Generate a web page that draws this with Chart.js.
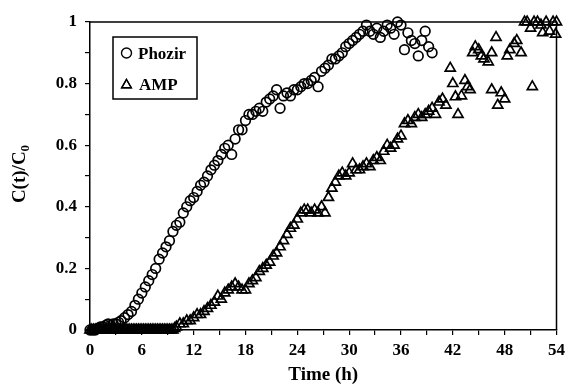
<!DOCTYPE html>
<html>
<head>
<meta charset="utf-8">
<script src="https://cdn.jsdelivr.net/npm/chart.js@4/dist/chart.umd.min.js"></script>
<style>
  body { margin: 0; background: #fff; }
  #wrap { width: 570px; height: 388px; }
</style>
</head>
<body>
<div id="wrap"><canvas id="chart" width="570" height="388"></canvas></div>
<script>
// Phozir breakthrough (circles)
const phozirTime = [0.0, 0.3, 0.6, 0.9, 1.2, 1.5, 1.8, 2.1, 2.4, 2.7, 3.0, 3.3, 3.6, 4.0, 4.4, 4.8, 5.2, 5.6, 6.0, 6.4,
  6.8, 7.2, 7.6, 8.0, 8.4, 8.8, 9.2, 9.6, 10.0, 10.4, 10.8, 11.2, 11.6, 12.0, 12.4, 12.8, 13.2, 13.6, 14.0, 14.4,
  14.8, 15.2, 15.6, 16.0, 16.4, 16.8, 17.2, 17.6, 18.0, 18.4, 18.8, 19.2, 19.6, 20.0, 20.4, 20.8, 21.2, 21.6, 22.0, 22.4,
  22.8, 23.2, 23.6, 24.0, 24.4, 24.8, 25.2, 25.6, 26.0, 26.4, 26.8, 27.2, 27.6, 28.0, 28.4, 28.8, 29.2, 29.6, 30.0, 30.4,
  30.8, 31.2, 31.6, 32.0, 32.4, 32.8, 33.2, 33.6, 34.0, 34.4, 34.8, 35.2, 35.6, 36.0, 36.4, 36.8, 37.2, 37.6, 38.0, 38.4,
  38.8, 39.2, 39.6];
const phozirValue = [0.00, 0.00, 0.00, 0.005, 0.01, 0.01, 0.015, 0.02, 0.015, 0.02, 0.02, 0.025, 0.03, 0.04, 0.05, 0.06, 0.08, 0.10, 0.12, 0.14,
  0.16, 0.18, 0.20, 0.23, 0.25, 0.27, 0.29, 0.32, 0.34, 0.35, 0.38, 0.40, 0.42, 0.43, 0.45, 0.47, 0.48, 0.50, 0.52, 0.535,
  0.55, 0.57, 0.59, 0.60, 0.57, 0.62, 0.65, 0.65, 0.68, 0.70, 0.70, 0.71, 0.72, 0.71, 0.74, 0.75, 0.76, 0.78, 0.72, 0.76,
  0.77, 0.76, 0.78, 0.78, 0.79, 0.80, 0.80, 0.81, 0.82, 0.79, 0.84, 0.85, 0.86, 0.88, 0.88, 0.89, 0.90, 0.92, 0.93, 0.94,
  0.95, 0.96, 0.97, 0.99, 0.97, 0.96, 0.98, 0.95, 0.97, 0.99, 0.98, 0.96, 1.00, 0.99, 0.91, 0.965, 0.94, 0.93, 0.89, 0.94,
  0.97, 0.92, 0.90];

// AMP breakthrough (triangles)
const ampTime = [0.0, 0.2, 0.4, 0.6, 0.8, 1.0, 1.2, 1.4, 1.6, 1.8, 2.0, 2.2, 2.4, 2.6, 2.8, 3.0, 3.2, 3.4, 3.6, 3.8,
  4.0, 4.2, 4.4, 4.6, 4.8, 5.0, 5.2, 5.4, 5.6, 5.8, 6.0, 6.2, 6.4, 6.6, 6.8, 7.0, 7.2, 7.4, 7.6, 7.8,
  8.0, 8.2, 8.4, 8.6, 8.8, 9.0, 9.2, 9.4, 9.6, 9.8, 10.0, 10.4, 10.8, 11.2, 11.6, 12.0, 12.4, 12.8, 13.2, 13.6,
  14.0, 14.4, 14.8, 15.2, 15.6, 16.0, 16.4, 16.8, 17.2, 17.6, 18.0, 18.4, 18.8, 19.2, 19.6, 20.0, 20.4, 20.8, 21.2, 21.6,
  22.0, 22.4, 22.8, 23.2, 23.6, 24.0, 24.4, 24.8, 25.2, 25.6, 26.0, 26.4, 26.8, 27.2, 27.6, 28.0, 28.4, 28.8, 29.2, 29.6,
  30.0, 30.4, 30.8, 31.2, 31.6, 32.0, 32.4, 32.8, 33.2, 33.6, 34.0, 34.4, 34.8, 35.2, 35.6, 36.0, 36.4, 36.8, 37.2, 37.6,
  38.0, 38.4, 38.8, 39.2, 39.6, 40.0, 40.4, 40.8, 41.2, 41.7, 42.0, 42.3, 42.6, 43.0, 43.4, 43.7, 44.0, 44.3, 44.6, 45.0,
  45.3, 45.6, 46.1, 46.5, 46.5, 47.0, 47.2, 47.6, 48.0, 48.3, 48.6, 49.1, 49.4, 49.9, 50.3, 50.6, 51.0, 51.2, 51.4, 51.8,
  52.2, 52.4, 52.8, 53.2, 53.6, 53.9, 54.0];
const ampValue = [0, 0, 0, 0, 0, 0, 0, 0, 0, 0, 0, 0, 0, 0, 0, 0, 0, 0, 0, 0,
  0, 0, 0, 0, 0, 0, 0, 0, 0, 0, 0, 0, 0, 0, 0, 0, 0, 0, 0, 0,
  0, 0, 0, 0, 0, 0, 0, 0, 0, 0.005, 0.01, 0.02, 0.02, 0.03, 0.03, 0.04, 0.05, 0.05, 0.06, 0.07,
  0.08, 0.09, 0.11, 0.10, 0.12, 0.13, 0.14, 0.15, 0.14, 0.13, 0.13, 0.15, 0.16, 0.17, 0.19, 0.20, 0.21, 0.22, 0.24, 0.25,
  0.27, 0.29, 0.31, 0.33, 0.34, 0.36, 0.38, 0.39, 0.39, 0.38, 0.39, 0.38, 0.40, 0.38, 0.43, 0.46, 0.48, 0.50, 0.51, 0.50,
  0.51, 0.54, 0.52, 0.52, 0.53, 0.54, 0.53, 0.55, 0.56, 0.55, 0.58, 0.60, 0.59, 0.60, 0.62, 0.63, 0.67, 0.68, 0.67, 0.69,
  0.70, 0.69, 0.70, 0.71, 0.72, 0.70, 0.74, 0.75, 0.73, 0.85, 0.80, 0.757, 0.70, 0.76, 0.81, 0.79, 0.78, 0.90, 0.92, 0.91,
  0.89, 0.88, 0.87, 0.90, 0.78, 0.95, 0.73, 0.77, 0.75, 0.89, 0.91, 0.93, 0.94, 0.90, 1.00, 1.00, 0.98, 0.79, 1.00, 1.00,
  0.99, 0.965, 1.00, 0.97, 1.00, 0.96, 1.00];

const seriesNames = ['Phozir', 'AMP'];
const xTickStep = 3;
const yTickStep = 0.1;

const toPoints = (xs, ys) => xs.map((x, i) => ({ x: x, y: ys[i] }));

const FONT = "'Liberation Serif', 'Times New Roman', serif";

// frame, legend box and y title with subscript
const extras = {
  id: 'extras',
  afterDraw(chart) {
    const ctx = chart.ctx;
    const a = chart.chartArea;
    ctx.save();
    ctx.strokeStyle = '#000';
    ctx.lineWidth = 1.5;
    ctx.beginPath();
    ctx.moveTo(a.left, a.top);
    ctx.lineTo(a.right, a.top);
    ctx.lineTo(a.right, a.bottom);
    ctx.stroke();

    // legend
    ctx.lineWidth = 1.5;
    ctx.strokeRect(113, 37, 84, 62);
    ctx.lineWidth = 1.4;
    ctx.beginPath();
    ctx.arc(126.5, 53, 5, 0, Math.PI * 2);
    ctx.stroke();
    Chart.helpers.drawPoint(ctx, { pointStyle: 'triangle', radius: 5.5, rotation: 0, borderWidth: 1.4 }, 126.5, 85);
    ctx.stroke();
    ctx.fillStyle = '#000';
    ctx.font = 'bold 17px ' + FONT;
    ctx.textBaseline = 'alphabetic';
    ctx.textAlign = 'left';
    ctx.fillText(seriesNames[0], 138, 59);
    ctx.fillText(seriesNames[1], 139, 90);

    // y title C(t)/C0
    ctx.translate(25, 174);
    ctx.rotate(-Math.PI / 2);
    const main = 'C(t)/C';
    ctx.font = 'bold 19px ' + FONT;
    const w1 = ctx.measureText(main).width;
    ctx.font = 'bold 13px ' + FONT;
    const w2 = ctx.measureText('0').width;
    const start = -(w1 + w2) / 2;
    ctx.font = 'bold 19px ' + FONT;
    ctx.fillText(main, start, 0);
    ctx.font = 'bold 13px ' + FONT;
    ctx.fillText('0', start + w1, 4);
    ctx.restore();
  }
};

const markerStyle = {
  backgroundColor: 'rgba(0,0,0,0)',
  borderColor: '#000',
  pointBorderWidth: 1.7,
  showLine: false,
  clip: false
};

new Chart(document.getElementById('chart'), {
  type: 'scatter',
  data: {
    datasets: [
      Object.assign({ label: seriesNames[0], data: toPoints(phozirTime, phozirValue), pointStyle: 'circle', pointRadius: 4.8 }, markerStyle),
      Object.assign({ label: seriesNames[1], data: toPoints(ampTime, ampValue), pointStyle: 'triangle', pointRadius: 5.8 }, markerStyle)
    ]
  },
  options: {
    responsive: false,
    animation: false,
    layout: { padding: { top: 22, right: 7, left: 0, bottom: 2 } },
    plugins: {
      legend: { display: false },
      tooltip: { enabled: false }
    },
    scales: {
      x: {
        type: 'linear',
        min: 0,
        max: 54,
        afterFit: s => { s.height = 56; },
        border: { display: true, color: '#000', width: 1.5 },
        grid: { display: true, drawOnChartArea: false, drawTicks: true, tickLength: 5, color: '#000', lineWidth: 1.2 },
        ticks: {
          stepSize: xTickStep,
          autoSkip: false,
          maxRotation: 0,
          padding: 5,
          color: '#000',
          font: { family: FONT, size: 17, weight: 'bold' },
          callback: v => (v % 6 === 0 ? String(v) : '')
        },
        title: {
          display: true,
          text: 'Time (h)',
          color: '#000',
          font: { family: FONT, size: 19, weight: 'bold' },
          padding: { top: 0, bottom: 0 }
        }
      },
      y: {
        min: 0,
        max: 1,
        afterFit: s => { s.width = 90; },
        border: { display: true, color: '#000', width: 1.5 },
        grid: { display: true, drawOnChartArea: false, drawTicks: true, tickLength: 5, color: '#000', lineWidth: 1.2 },
        ticks: {
          stepSize: yTickStep,
          autoSkip: false,
          padding: 8,
          color: '#000',
          font: { family: FONT, size: 17, weight: 'bold' },
          callback: v => {
            const k = Math.round(v * 10);
            return k % 2 === 0 ? String(k / 10) : '';
          }
        }
      }
    }
  },
  plugins: [extras]
});
</script>
</body>
</html>
